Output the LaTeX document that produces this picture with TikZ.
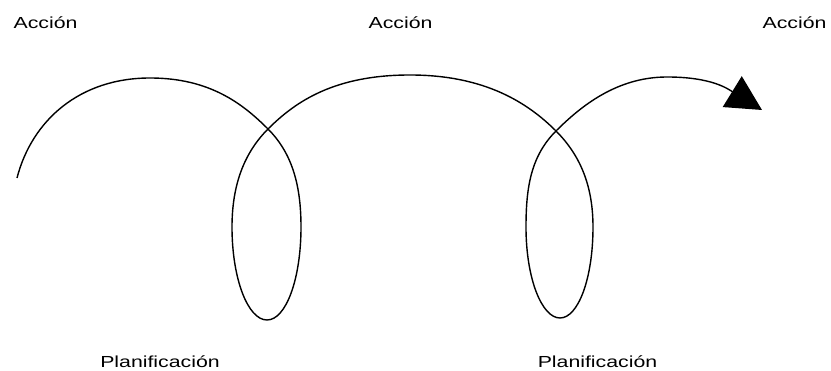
\documentclass[tikz,border=0pt]{standalone}
\usepackage{fontspec}
\setmainfont{Liberation Sans}
\usepackage{graphicx}
\usetikzlibrary{arrows.meta, positioning}

\newcommand{\wide}[1]{\scalebox{1.33}[1]{#1}}

\begin{document}
\begin{tikzpicture}[
    x=1pt, y=1pt,
    lbl/.style={
        font=\fontsize{16}{16}\selectfont,
        anchor=base, inner sep=0pt
    },
    spiral/.style={line width=1.4pt, -{Triangle[length=35pt, width=36pt]}},
]
\useasboundingbox (0,0) rectangle (831,371);

\node[lbl] (act1) at (45.5,342) {\wide{Acción}};
\node[lbl] (act2) at (400.5,342) {\wide{Acción}};
\node[lbl] (act3) at (794.5,342) {\wide{Acción}};

\node[lbl] (plan1) at (160,3) {\wide{Planificación}};
\node[lbl] (plan2) at (597.5,3) {\wide{Planificación}};

% points of the spiral
\coordinate (p0) at (17,193);
\coordinate (t1) at (150,293);
\coordinate (c1) at (268,242);
\coordinate (r1) at (301,144);
\coordinate (b1) at (267,51);
\coordinate (l1) at (232,144);
\coordinate (t2) at (410,296);
\coordinate (c2) at (556,240);
\coordinate (r2) at (593,144);
\coordinate (b2) at (560,53);
\coordinate (l2) at (526,144);
\coordinate (t3) at (667,294);
\coordinate (tip) at (762,261);

\draw[spiral] (p0) .. controls (32,251) and (80,293) .. (t1)
    .. controls (210,293) and (243,267) .. (c1)
    .. controls (293,217) and (301,184) .. (r1)
    .. controls (301,92) and (286,51) .. (b1)
    .. controls (248,51) and (232,92) .. (l1)
    .. controls (232,184) and (243,217) .. (c1)
    .. controls (296,270) and (335,296) .. (t2)
    .. controls (485,296) and (528,268) .. (c2)
    .. controls (581,215) and (593,184) .. (r2)
    .. controls (593,92) and (578,53) .. (b2)
    .. controls (542,53) and (526,92) .. (l2)
    .. controls (526,184) and (531,215) .. (c2)
    .. controls (581,265) and (617,294) .. (t3)
    .. controls (712,294) and (728,282) .. (tip);

\end{tikzpicture}
\end{document}
